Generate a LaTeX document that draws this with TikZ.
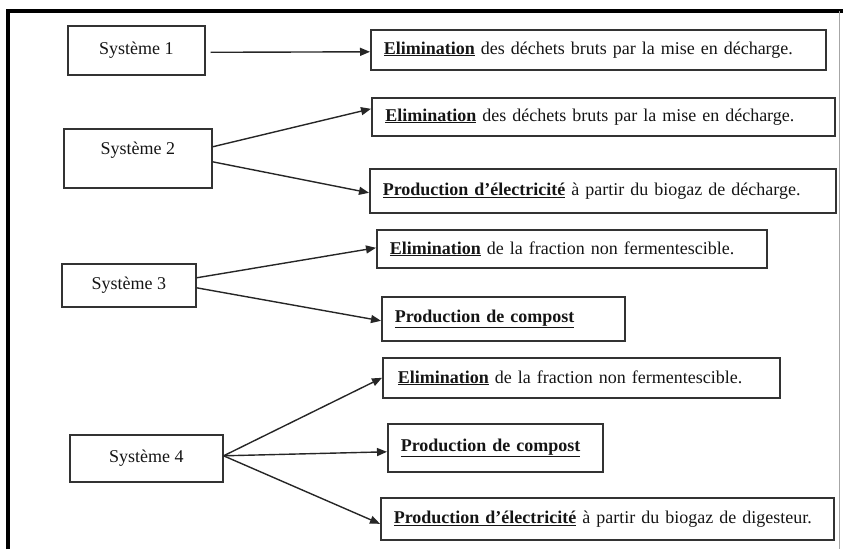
\documentclass[tikz,border=0pt]{standalone}
\usepackage{fontspec}
\setmainfont{Liberation Serif}
\usetikzlibrary{arrows.meta}
\definecolor{boxgray}{HTML}{333333}
\definecolor{txt}{HTML}{151515}
\begin{document}
\begin{tikzpicture}[x=1pt,y=-1pt,
  font=\fontsize{18}{21}\selectfont,
  every node/.style={text=txt},
  sysbox/.style={draw=boxgray, line width=1.6pt, anchor=north west, inner sep=0pt},
  resbox/.style={draw=boxgray, line width=1.6pt, anchor=north west, inner xsep=13pt, inner ysep=0pt, align=left},
  arr/.style={draw=black!85, line width=1.4pt, -{Triangle[length=10pt,width=8pt]}}
]
\useasboundingbox (0,0) rectangle (843,549);
% frame
\draw[line width=3.5pt] (8,549) -- (8,11) -- (843,11);
\draw[black!35, line width=0.8pt] (839,11) -- (839,549);

% system boxes
\node[sysbox, minimum width=137pt, minimum height=49pt] (s1) at (67,25) {Système 1};
\node[sysbox, minimum width=148pt, minimum height=59pt, label={[yshift=8.5pt]center:Système 2}] (s2) at (63,128) {};
\node[sysbox, minimum width=134pt, minimum height=43pt] (s3) at (61,263) {Système 3};
\node[sysbox, minimum width=153pt, minimum height=47pt] (s4) at (69,434) {Système 4};

% result boxes
\node[resbox, text width=429pt, minimum height=40pt] (e1) at (370,29) {\textbf{\underline{Elimination}} des déchets bruts par la mise en décharge.};
\node[resbox, text width=436pt, inner xsep=13.5pt, minimum height=38pt] (e2) at (371,97) {\textbf{\underline{Elimination}} des déchets bruts par la mise en décharge.};
\node[resbox, text width=440pt, minimum height=44pt] (p2) at (369,168) {\textbf{\underline{Production d’électricité}} à partir du biogaz de décharge.};
\node[resbox, text width=364pt, minimum height=38pt] (e3) at (376,229) {\textbf{\underline{Elimination}} de la fraction non fermentescible.};
\node[resbox, text width=217pt, minimum height=44pt] (c3) at (381,296) {\textbf{\underline{Production de compost}}};
\node[resbox, text width=367pt, inner xsep=15pt, minimum height=40pt] (e4) at (382,357) {\textbf{\underline{Elimination}} de la fraction non fermentescible.};
\node[resbox, text width=189pt, minimum height=48pt] (c4) at (387,423) {\textbf{\underline{Production de compost}}};
\node[resbox, text width=427pt, minimum height=42pt] (p4) at (380,497) {\textbf{\underline{Production d’électricité}} à partir du biogaz de digesteur.};

% connectors
\draw[arr] ([xshift=5pt,yshift=-2pt]s1.east) -- ([yshift=-2pt]e1.west);
\draw[arr] ([yshift=11.5pt]s2.east) -- ([yshift=8pt]e2.west);
\draw[arr] ([yshift=-3.5pt]s2.east) -- ([yshift=-2pt]p2.west);
\draw[arr] ([yshift=7.5pt]s3.east) -- ([yshift=1pt]e3.west);
\draw[arr] ([yshift=-2.5pt]s3.east) -- ([yshift=-2pt]c3.west);
\draw[arr] ([yshift=2.5pt]s4.east) -- (e4.west);
\draw[arr] ([yshift=2.5pt]s4.east) -- ([yshift=-4pt]c4.west);
\draw[arr] ([yshift=2.5pt]s4.east) -- ([yshift=-5pt]p4.west);
\end{tikzpicture}
\end{document}
